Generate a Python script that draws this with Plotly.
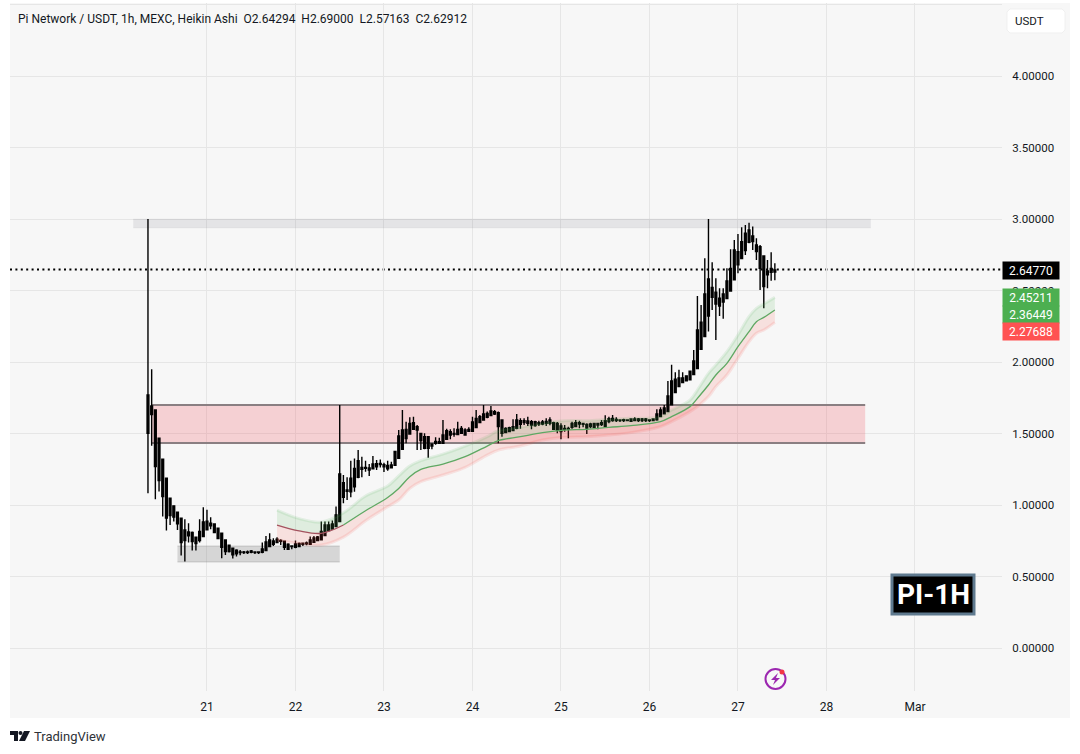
import pandas as pd
import plotly.graph_objects as go

# hourly Heikin Ashi candles (all drawn black)
start = "2025-02-20 08:00"
highs = [
    3.000, 1.949, 1.664, 1.467, 1.320, 1.187, 1.047, .994, .950, .908,
    .901, .873, .815, .780, .901, .985, .966, .915, .868, .838,
    .808, .756, .721, .703, .691, .686, .679, .682, .686, .677,
    .677, .738, .784, .803, .768, .775, .761, .752, .733, .719,
    .752, .738, .738, .745, .780, .784, .784, .884, .884, .884,
    .891, .989, 1.700, 1.210, 1.194, 1.310, 1.326, 1.385, 1.338, 1.310,
    1.287, 1.343, 1.315, 1.319, 1.296, 1.310, 1.303, 1.380, 1.524, 1.664,
    1.583, 1.613, 1.618, 1.559, 1.506, 1.501, 1.478, 1.431, 1.473, 1.471,
    1.594, 1.534, 1.529, 1.536, 1.583, 1.552, 1.536, 1.543, 1.618, 1.664,
    1.629, 1.699, 1.653, 1.692, 1.664, 1.653, 1.594, 1.543, 1.548, 1.599,
    1.636, 1.606, 1.606, 1.618, 1.594, 1.590, 1.590, 1.594, 1.606, 1.613,
    1.583, 1.580, 1.571, 1.559, 1.548, 1.583, 1.594, 1.590, 1.576, 1.571,
    1.576, 1.576, 1.576, 1.594, 1.627, 1.618, 1.629, 1.613, 1.599, 1.604,
    1.599, 1.606, 1.613, 1.608, 1.608, 1.608, 1.599, 1.606, 1.670, 1.684,
    1.700, 1.868, 1.980, 1.928, 1.945, 1.928, 1.905, 1.940, 2.084, 2.462,
    2.399, 2.725, 3.000, 2.697, 2.585, 2.515, 2.515, 2.655, 2.788, 2.853,
    2.895, 2.942, 2.958, 2.974, 2.947, 2.865, 2.818, 2.741, 2.713, 2.767,
    2.690,
]
body_top = [
    1.769, 1.693, 1.664, 1.467, 1.320, 1.187, 1.047, .994, .950, .908,
    .826, .812, .808, .775, .815, .882, .887, .873, .868, .838,
    .803, .756, .719, .698, .684, .672, .672, .672, .679, .672,
    .672, .693, .742, .756, .749, .761, .752, .747, .726, .714,
    .728, .731, .733, .735, .756, .770, .777, .815, .861, .861,
    .868, .931, 1.218, 1.156, 1.105, 1.187, 1.256, 1.310, 1.263, 1.263,
    1.259, 1.287, 1.289, 1.291, 1.282, 1.277, 1.280, 1.375, 1.482, 1.524,
    1.529, 1.571, 1.576, 1.548, 1.501, 1.478, 1.478, 1.427, 1.445, 1.443,
    1.489, 1.520, 1.513, 1.501, 1.529, 1.536, 1.524, 1.529, 1.580, 1.606,
    1.618, 1.636, 1.641, 1.657, 1.653, 1.646, 1.594, 1.536, 1.541, 1.548,
    1.594, 1.590, 1.590, 1.587, 1.583, 1.583, 1.576, 1.580, 1.585, 1.594,
    1.576, 1.571, 1.552, 1.536, 1.536, 1.571, 1.576, 1.576, 1.571, 1.564,
    1.566, 1.571, 1.571, 1.576, 1.590, 1.604, 1.606, 1.599, 1.594, 1.597,
    1.594, 1.601, 1.601, 1.601, 1.601, 1.601, 1.594, 1.601, 1.637, 1.665,
    1.679, 1.763, 1.868, 1.879, 1.889, 1.889, 1.903, 1.935, 2.007, 2.224,
    2.278, 2.476, 2.581, 2.522, 2.488, 2.446, 2.476, 2.567, 2.655, 2.783,
    2.772, 2.842, 2.900, 2.923, 2.881, 2.818, 2.807, 2.741, 2.637, 2.655,
    2.643,
]
body_bot = [
    1.502, 1.632, 1.269, 1.171, 1.059, .908, .926, .915, .868, .738,
    .752, .784, .745, .731, .752, .780, .826, .854, .808, .766,
    .705, .675, .675, .651, .658, .668, .668, .668, .670, .668,
    .668, .670, .682, .710, .726, .738, .747, .705, .691, .710,
    .705, .710, .726, .728, .726, .740, .752, .756, .787, .822,
    .831, .850, .884, 1.054, 1.096, 1.093, 1.128, 1.194, 1.249, 1.256,
    1.245, 1.254, 1.268, 1.282, 1.268, 1.254, 1.261, 1.277, 1.326, 1.389,
    1.464, 1.496, 1.529, 1.524, 1.450, 1.396, 1.396, 1.413, 1.431, 1.431,
    1.431, 1.459, 1.489, 1.494, 1.492, 1.501, 1.489, 1.515, 1.515, 1.541,
    1.576, 1.594, 1.613, 1.625, 1.636, 1.548, 1.501, 1.506, 1.513, 1.520,
    1.536, 1.564, 1.576, 1.571, 1.559, 1.555, 1.566, 1.566, 1.571, 1.571,
    1.529, 1.524, 1.513, 1.529, 1.529, 1.543, 1.548, 1.566, 1.564, 1.538,
    1.548, 1.543, 1.559, 1.562, 1.548, 1.583, 1.590, 1.590, 1.590, 1.590,
    1.590, 1.585, 1.590, 1.590, 1.590, 1.590, 1.590, 1.590, 1.595, 1.618,
    1.637, 1.653, 1.700, 1.786, 1.828, 1.856, 1.868, 1.875, 1.912, 1.954,
    2.089, 2.178, 2.322, 2.453, 2.406, 2.392, 2.420, 2.443, 2.497, 2.574,
    2.679, 2.723, 2.779, 2.837, 2.842, 2.772, 2.655, 2.527, 2.609, 2.627,
    2.629,
]
lows = [
    1.082, 1.415, 1.041, 1.094, .919, .822, .861, .884, .826, .647,
    .605, .738, .682, .682, .738, .780, .822, .831, .808, .761,
    .628, .651, .668, .626, .640, .649, .658, .658, .663, .658,
    .658, .663, .682, .705, .714, .733, .721, .686, .686, .691,
    .698, .705, .714, .719, .721, .738, .747, .756, .784, .815,
    .831, .845, .884, 1.012, 1.035, 1.054, 1.093, 1.187, 1.194, 1.233,
    1.203, 1.249, 1.245, 1.263, 1.231, 1.240, 1.256, 1.273, 1.322, 1.389,
    1.431, 1.492, 1.524, 1.385, 1.385, 1.389, 1.331, 1.389, 1.422, 1.427,
    1.427, 1.455, 1.459, 1.478, 1.487, 1.496, 1.485, 1.510, 1.510, 1.536,
    1.571, 1.590, 1.606, 1.622, 1.629, 1.431, 1.478, 1.501, 1.508, 1.515,
    1.529, 1.534, 1.559, 1.552, 1.529, 1.548, 1.552, 1.557, 1.552, 1.557,
    1.524, 1.501, 1.459, 1.513, 1.466, 1.534, 1.543, 1.536, 1.543, 1.496,
    1.536, 1.538, 1.529, 1.552, 1.543, 1.571, 1.583, 1.580, 1.580, 1.580,
    1.585, 1.580, 1.585, 1.580, 1.580, 1.580, 1.580, 1.585, 1.590, 1.614,
    1.632, 1.651, 1.700, 1.781, 1.823, 1.851, 1.863, 1.870, 1.907, 1.954,
    2.084, 2.173, 2.213, 2.364, 2.154, 2.322, 2.303, 2.439, 2.492, 2.574,
    2.620, 2.718, 2.748, 2.830, 2.783, 2.714, 2.504, 2.376, 2.515, 2.569,
    2.572,
]

# moving average ribbon
band_times = [
    "2025-02-21 19:00", "2025-02-22 01:00", "2025-02-22 07:00", "2025-02-22 13:00",
    "2025-02-22 19:00", "2025-02-23 01:00", "2025-02-23 04:00", "2025-02-23 07:00",
    "2025-02-23 10:00", "2025-02-23 16:00", "2025-02-23 22:00", "2025-02-24 04:00",
    "2025-02-24 07:00", "2025-02-24 13:00", "2025-02-24 19:00", "2025-02-25 01:00",
    "2025-02-25 07:00", "2025-02-25 13:00", "2025-02-25 19:00", "2025-02-26 03:00",
    "2025-02-26 06:00", "2025-02-26 11:00", "2025-02-26 13:00", "2025-02-26 16:00",
    "2025-02-26 18:00", "2025-02-26 21:00", "2025-02-27 00:00", "2025-02-27 03:00",
    "2025-02-27 05:00", "2025-02-27 07:00", "2025-02-27 10:00",
]
band_upper = [.965, .905, .881, .945, 1.063, 1.133, 1.203, 1.272, 1.310, 1.356, 1.412,
              1.478, 1.520, 1.543, 1.571, 1.590, 1.590, 1.599, 1.606, 1.618, 1.664,
              1.734, 1.804, 1.921, 1.979, 2.072, 2.189, 2.317, 2.375, 2.406, 2.452]
band_mid = [.860, .819, .802, .860, .960, 1.053, 1.116, 1.198, 1.249, 1.286, 1.338,
            1.412, 1.450, 1.478, 1.506, 1.524, 1.529, 1.543, 1.555, 1.583, 1.618,
            1.688, 1.746, 1.839, 1.909, 1.991, 2.107, 2.212, 2.282, 2.312, 2.364]
band_lower = [.755, .730, .720, .775, .890, .988, 1.035, 1.116, 1.163, 1.210, 1.263,
              1.349, 1.384, 1.412, 1.454, 1.473, 1.478, 1.489, 1.506, 1.548, 1.583,
              1.653, 1.688, 1.758, 1.828, 1.909, 2.026, 2.142, 2.201, 2.224, 2.277]

last_price = 2.6477
price_ticks = [0, .5, 1, 1.5, 2, 2.5, 3, 3.5, 4, 4.5]
price_labels = ["0.00000", "0.50000", "1.00000", "1.50000", "2.00000", "2.50000",
                "3.00000", "3.50000", "4.00000", ""]
day_ticks = ["2025-02-21", "2025-02-22", "2025-02-23", "2025-02-24", "2025-02-25",
             "2025-02-26", "2025-02-27", "2025-02-28", "2025-03-01"]
day_labels = ["21", "22", "23", "24", "25", "26", "27", "28", "Mar"]

# zones drawn on the chart: x0, x1, low, high
top_zone = ["2025-02-20 04:00", "2025-02-28 12:00", 2.937, 3.0]
supply_zone = ["2025-02-20 09:00", "2025-02-28 10:30", 1.434, 1.699]
base_zone = ["2025-02-20 16:00", "2025-02-22 12:00", .601, .713]

W, H = 1080, 754
L, R, T, B = 10, 1002, 3, 691
FONT = "Roboto"


def px(x):
  return (x - L) / (R - L)


def py(y):
  return (B - y) / (B - T)


def zone(z, fill, edge):
  shapes = [dict(type="rect", x0=z[0], x1=z[1], y0=z[2], y1=z[3], xref="x", yref="y",
                 fillcolor=fill, line_width=0, layer="between")]
  for level in z[2:]:
    shapes.append(dict(type="line", x0=z[0], x1=z[1], y0=level, y1=level, xref="x", yref="y",
                       line=dict(color=edge, width=2), layer="between"))
  return shapes


def page_path(points, fill, line=None):
  # points given in page pixels, placed through paper coordinates
  d = "M" + " L".join(f"{px(a):.5f},{py(b):.5f}" for a, b in points) + " Z"
  return dict(type="path", path=d, xref="paper", yref="paper", fillcolor=fill,
              line=dict(width=0) if line is None else line, layer="above")


def note(x, y, text, size, color="#131722", anchor="center"):
  return dict(x=px(x), y=py(y), xref="paper", yref="paper", text=text, showarrow=False,
              xanchor=anchor, yanchor="middle", font=dict(family=FONT, size=size, color=color))


def tag(y, text, bg):
  return dict(note(1031, y, text, 12, "white"), bgcolor=bg, width=56, height=17, borderpad=0)


times = pd.date_range(start, periods=len(highs), freq="h")

fig = go.Figure()
fig.add_trace(go.Scatter(x=band_times, y=band_mid, mode="lines", line=dict(width=0, shape="spline"),
                         hoverinfo="skip"))
fig.add_trace(go.Scatter(x=band_times, y=band_upper, mode="lines", fill="tonexty",
                         fillcolor="rgba(76,175,80,0.14)",
                         line=dict(color="rgba(76,175,80,0.12)", width=3, shape="spline")))
fig.add_trace(go.Scatter(x=band_times, y=band_mid, mode="lines", line=dict(width=0, shape="spline"),
                         hoverinfo="skip"))
fig.add_trace(go.Scatter(x=band_times, y=band_lower, mode="lines", fill="tonexty",
                         fillcolor="rgba(244,67,54,0.13)",
                         line=dict(color="rgba(244,67,54,0.12)", width=3, shape="spline")))
fig.add_trace(go.Scatter(x=band_times[3:], y=band_mid[3:], mode="lines",
                         line=dict(color="#5fa863", width=1.3, shape="spline")))
fig.add_trace(go.Scatter(x=band_times[:4], y=band_mid[:4], mode="lines",
                         line=dict(color="#a4525e", width=1.3, shape="spline")))
fig.add_trace(go.Candlestick(x=times, open=body_bot, high=highs, low=lows, close=body_top,
                             increasing=dict(line=dict(color="black", width=1.4), fillcolor="black"),
                             decreasing=dict(line=dict(color="black", width=1.4), fillcolor="black")))

shapes = [dict(type="rect", x0=px(10), x1=px(1070), y0=py(718), y1=py(3), xref="paper", yref="paper",
               fillcolor="#f7f7f7", line_width=0, layer="below")]
shapes += zone(top_zone, "rgba(120,123,134,0.15)", "rgba(120,123,134,0.03)")
shapes += zone(supply_zone, "rgba(242,54,69,0.2)", "#8a7f82")
shapes += zone(base_zone, "rgba(110,110,110,0.24)", "rgba(110,110,110,0.14)")
shapes.append(dict(type="line", x0=0, x1=1, y0=last_price, y1=last_price, xref="paper", yref="y",
                   line=dict(color="black", width=2, dash="2px,3.4px"), layer="between"))

# currency button
shapes.append(page_path([(1010, 9), (1062, 9), (1065, 12), (1065, 30), (1062, 33), (1010, 33),
                         (1007, 30), (1007, 12)], "white", dict(color="#f0f0f0", width=1)))
# PI-1H box
shapes.append(page_path([(892, 575), (974, 575), (974, 614), (892, 614)], "black",
                        dict(color="#5f7a8f", width=3)))
# lightning badge
shapes.append(dict(type="circle", x0=px(765.5), x1=px(785.5), y0=py(689), y1=py(669), xref="paper",
                   yref="paper", fillcolor="rgba(0,0,0,0)", line=dict(color="#9c27b0", width=2),
                   layer="above"))
shapes.append(page_path([(778, 673), (771, 680), (775, 680), (773, 685), (780, 678), (776, 678)],
                        "#9c27b0"))
shapes.append(dict(type="circle", x0=px(779.5), x1=px(784.5), y0=py(674.5), y1=py(669.5), xref="paper",
                   yref="paper", fillcolor="#f23645", line_width=0, layer="above"))
# TradingView mark
shapes.append(page_path([(10, 731), (18, 731), (18, 741), (14, 741), (14, 735), (10, 735)], "#131722"))
shapes.append(page_path([(24, 731), (30, 731), (25, 741), (19, 741)], "#131722"))
shapes.append(dict(type="circle", x0=px(18.5), x1=px(22.5), y0=py(735), y1=py(731), xref="paper",
                   yref="paper", fillcolor="#131722", line_width=0, layer="above"))

annotations = [
    note(16, 19, "Pi Network / USDT, 1h, MEXC, Heikin Ashi&nbsp;&nbsp;O2.64294&nbsp;&nbsp;"
                 "H2.69000&nbsp;&nbsp;L2.57163&nbsp;&nbsp;C2.62912", 12, anchor="left"),
    note(1029, 21, "USDT", 11.5),
    note(933, 594.5, "<b>PI-1H</b>", 28, "white"),
    note(32, 736, "TradingView", 13, "#2e3238", anchor="left"),
    tag(270, "2.64770", "black"),
    tag(297.5, "2.45211", "#4caf50"),
    tag(314.5, "2.36449", "#4caf50"),
    tag(331.5, "2.27688", "#ff5252"),
]

fig.update_layout(
    width=W, height=H, showlegend=False, paper_bgcolor="white", plot_bgcolor="#f7f7f7",
    margin=dict(l=L, r=W - R, t=T, b=H - B), shapes=shapes, annotations=annotations,
    font=dict(family=FONT, color="#131722"),
    xaxis=dict(type="date", range=["2025-02-18 18:35", "2025-03-01 23:36"], tickvals=day_ticks,
               ticktext=day_labels, showgrid=True, gridcolor="#e6e6e6", gridwidth=1, zeroline=False,
               rangeslider=dict(visible=False), ticks="outside", ticklen=5,
               tickcolor="rgba(0,0,0,0)", tickfont=dict(size=12), showline=False),
    yaxis=dict(side="right", range=[-0.3007, 4.5105], tickvals=price_ticks, ticktext=price_labels,
               showgrid=True, gridcolor="#e6e6e6", gridwidth=1, zeroline=False, ticks="outside",
               ticklen=7, tickcolor="rgba(0,0,0,0)", tickfont=dict(size=11.5), showline=False),
)

fig.write_html("out.html", post_script="document.body.style.margin='0';",
               config=dict(displayModeBar=False))
